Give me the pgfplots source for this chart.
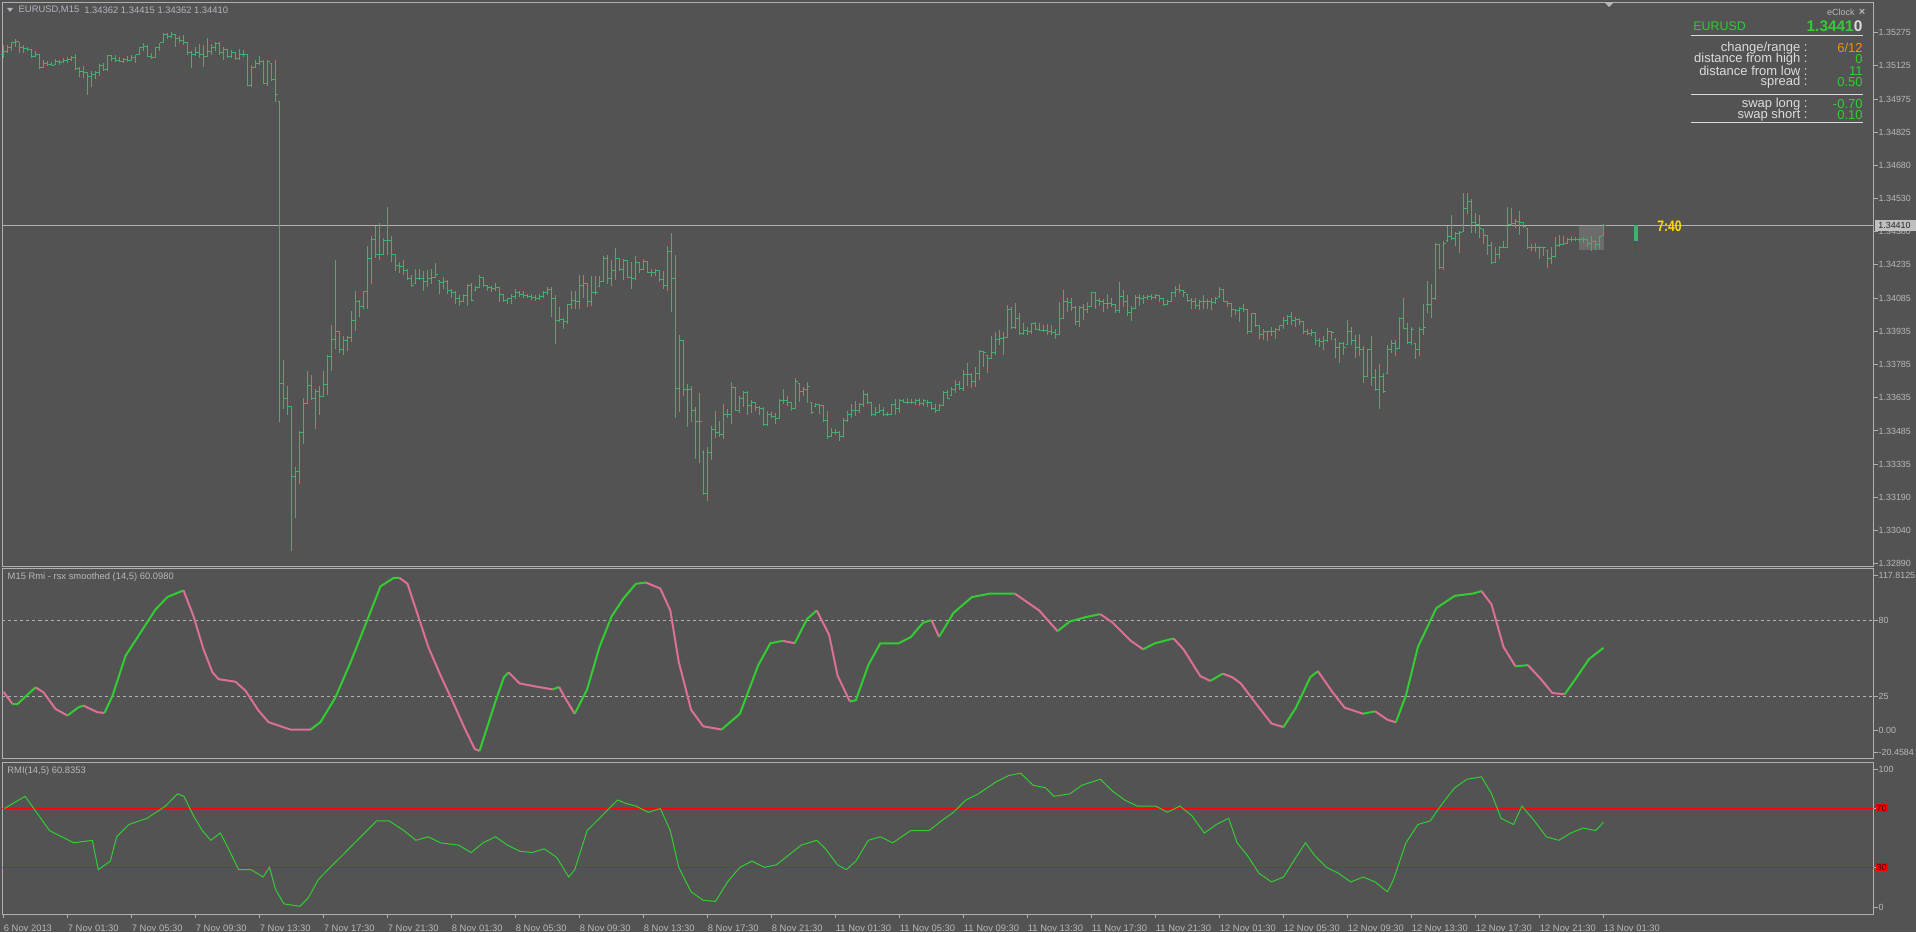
\documentclass[border=0pt]{standalone}
\usepackage{fontspec}
\setmainfont{Liberation Sans}
\usepackage{pgfplots}
\usepackage{pgfplotstable}
\pgfplotsset{compat=1.18}
\definecolor{bgc}{HTML}{535353}
\definecolor{axc}{HTML}{B0B0B0}
\definecolor{lblc}{HTML}{B8B8B8}
\definecolor{barc}{HTML}{3CB371}
\definecolor{rsxg}{HTML}{32CD32}
\definecolor{rsxp}{HTML}{DB7093}
\definecolor{hdrc}{HTML}{B0B4BE}
\definecolor{boxc}{HTML}{6C6C6C}
\definecolor{ecg}{HTML}{33CC33}
\definecolor{ecl}{HTML}{DCDCDC}
\pgfdeclareplotmark{otick}{\pgfpathmoveto{\pgfpoint{-1pt}{0pt}}\pgfpathlineto{\pgfpoint{0pt}{0pt}}\pgfusepathqstroke}
\pgfdeclareplotmark{ctick}{\pgfpathmoveto{\pgfpoint{0pt}{0pt}}\pgfpathlineto{\pgfpoint{1pt}{0pt}}\pgfusepathqstroke}
\newcommand\tk{\fontsize{4.7}{5.6}\selectfont}
\newcommand\tky{\fontsize{4.45}{5.3}\selectfont}
\newcommand\ec{\fontsize{6.5}{7}\selectfont}
\setlength\fboxsep{0.5pt}
\pgfplotstableread{
i h l o c
0 1.35218 1.35161 1.35177 1.35193
1 1.35218 1.35185 1.35193 1.35210
2 1.35234 1.35193 1.35210 1.35229
3 1.35246 1.35213 1.35229 1.35234
4 1.35234 1.35185 1.35234 1.35210
5 1.35218 1.35185 1.35210 1.35206
6 1.35213 1.35193 1.35206 1.35201
7 1.35201 1.35161 1.35201 1.35169
8 1.35193 1.35164 1.35169 1.35177
9 1.35180 1.35112 1.35177 1.35120
10 1.35152 1.35115 1.35120 1.35136
11 1.35147 1.35125 1.35136 1.35131
12 1.35144 1.35125 1.35131 1.35128
13 1.35157 1.35128 1.35131 1.35144
14 1.35152 1.35131 1.35144 1.35141
15 1.35161 1.35141 1.35144 1.35152
16 1.35164 1.35141 1.35152 1.35157
17 1.35169 1.35147 1.35157 1.35164
18 1.35180 1.35108 1.35164 1.35115
19 1.35123 1.35076 1.35115 1.35103
20 1.35125 1.35071 1.35103 1.35095
21 1.35099 1.34997 1.35095 1.35079
22 1.35103 1.35033 1.35079 1.35087
23 1.35103 1.35066 1.35087 1.35095
24 1.35136 1.35082 1.35095 1.35128
25 1.35141 1.35103 1.35128 1.35112
26 1.35177 1.35103 1.35112 1.35174
27 1.35177 1.35147 1.35174 1.35161
28 1.35177 1.35144 1.35161 1.35152
29 1.35164 1.35144 1.35152 1.35147
30 1.35161 1.35141 1.35147 1.35157
31 1.35169 1.35144 1.35157 1.35152
32 1.35174 1.35147 1.35152 1.35164
33 1.35177 1.35141 1.35164 1.35177
34 1.35213 1.35174 1.35177 1.35210
35 1.35229 1.35193 1.35210 1.35213
36 1.35218 1.35164 1.35213 1.35169
37 1.35185 1.35157 1.35169 1.35164
38 1.35213 1.35161 1.35164 1.35210
39 1.35229 1.35193 1.35210 1.35229
40 1.35272 1.35229 1.35229 1.35265
41 1.35272 1.35246 1.35265 1.35259
42 1.35278 1.35250 1.35259 1.35267
43 1.35267 1.35210 1.35267 1.35250
44 1.35259 1.35229 1.35250 1.35242
45 1.35265 1.35218 1.35242 1.35229
46 1.35229 1.35177 1.35229 1.35185
47 1.35193 1.35115 1.35185 1.35177
48 1.35210 1.35169 1.35177 1.35185
49 1.35226 1.35161 1.35185 1.35177
50 1.35218 1.35120 1.35177 1.35169
51 1.35250 1.35164 1.35169 1.35193
52 1.35223 1.35177 1.35193 1.35210
53 1.35234 1.35193 1.35210 1.35226
54 1.35234 1.35177 1.35226 1.35185
55 1.35213 1.35152 1.35185 1.35201
56 1.35201 1.35161 1.35201 1.35169
57 1.35197 1.35161 1.35169 1.35185
58 1.35185 1.35152 1.35185 1.35161
59 1.35201 1.35152 1.35161 1.35177
60 1.35197 1.35164 1.35177 1.35177
61 1.35180 1.35038 1.35177 1.35038
62 1.35128 1.35033 1.35038 1.35120
63 1.35152 1.35120 1.35120 1.35136
64 1.35169 1.35128 1.35136 1.35144
65 1.35152 1.35046 1.35144 1.35049
66 1.35152 1.35038 1.35049 1.35144
67 1.35136 1.35059 1.35136 1.35066
68 1.35152 1.34964 1.35066 1.34997
69 1.34964 1.33527 1.34964 1.33698
70 1.33804 1.33584 1.33698 1.33633
71 1.33690 1.33559 1.33633 1.33595
72 1.33595 1.32947 1.33595 1.33281
73 1.33322 1.33094 1.33281 1.33306
74 1.33486 1.33249 1.33306 1.33478
75 1.33633 1.33429 1.33478 1.33608
76 1.33755 1.33608 1.33608 1.33690
77 1.33739 1.33625 1.33690 1.33633
78 1.33674 1.33494 1.33633 1.33665
79 1.33690 1.33559 1.33665 1.33641
80 1.33755 1.33641 1.33641 1.33693
81 1.33829 1.33649 1.33693 1.33821
82 1.33960 1.33755 1.33821 1.33899
83 1.34254 1.33853 1.33899 1.33935
84 1.33935 1.33837 1.33935 1.33853
85 1.33911 1.33829 1.33853 1.33894
86 1.33911 1.33845 1.33894 1.33906
87 1.34025 1.33886 1.33906 1.33981
88 1.34115 1.33935 1.33981 1.34069
89 1.34074 1.34000 1.34069 1.34046
90 1.34115 1.34033 1.34046 1.34111
91 1.34319 1.34033 1.34111 1.34259
92 1.34360 1.34147 1.34259 1.34347
93 1.34409 1.34262 1.34347 1.34278
94 1.34422 1.34254 1.34278 1.34278
95 1.34352 1.34278 1.34278 1.34340
96 1.34491 1.34278 1.34340 1.34340
97 1.34360 1.34246 1.34340 1.34278
98 1.34278 1.34205 1.34278 1.34229
99 1.34246 1.34197 1.34229 1.34226
100 1.34254 1.34188 1.34226 1.34205
101 1.34213 1.34164 1.34205 1.34172
102 1.34188 1.34131 1.34172 1.34139
103 1.34213 1.34147 1.34147 1.34172
104 1.34213 1.34164 1.34172 1.34172
105 1.34205 1.34115 1.34172 1.34156
106 1.34210 1.34131 1.34156 1.34172
107 1.34213 1.34147 1.34172 1.34177
108 1.34242 1.34177 1.34177 1.34188
109 1.34164 1.34102 1.34161 1.34151
110 1.34177 1.34123 1.34151 1.34156
111 1.34164 1.34102 1.34156 1.34115
112 1.34123 1.34082 1.34115 1.34107
113 1.34115 1.34058 1.34107 1.34082
114 1.34095 1.34049 1.34082 1.34069
115 1.34102 1.34066 1.34069 1.34095
116 1.34144 1.34046 1.34095 1.34139
117 1.34151 1.34069 1.34139 1.34074
118 1.34139 1.34115 1.34118 1.34131
119 1.34185 1.34131 1.34131 1.34177
120 1.34177 1.34131 1.34177 1.34139
121 1.34139 1.34115 1.34139 1.34131
122 1.34139 1.34112 1.34131 1.34128
123 1.34151 1.34115 1.34128 1.34131
124 1.34131 1.34066 1.34131 1.34098
125 1.34102 1.34066 1.34098 1.34074
126 1.34085 1.34058 1.34074 1.34079
127 1.34102 1.34058 1.34079 1.34090
128 1.34123 1.34079 1.34090 1.34107
129 1.34115 1.34090 1.34107 1.34098
130 1.34115 1.34085 1.34098 1.34095
131 1.34102 1.34082 1.34095 1.34090
132 1.34102 1.34074 1.34090 1.34085
133 1.34095 1.34069 1.34085 1.34082
134 1.34102 1.34074 1.34082 1.34090
135 1.34115 1.34085 1.34090 1.34107
136 1.34131 1.34098 1.34107 1.34123
137 1.34131 1.34000 1.34123 1.34082
138 1.34098 1.33878 1.34082 1.33984
139 1.34041 1.33976 1.33984 1.33987
140 1.33992 1.33943 1.33987 1.33976
141 1.34058 1.33968 1.33976 1.34053
142 1.34115 1.34033 1.34053 1.34074
143 1.34115 1.34033 1.34074 1.34069
144 1.34185 1.34033 1.34069 1.34139
145 1.34188 1.34082 1.34139 1.34147
146 1.34147 1.34041 1.34147 1.34069
147 1.34180 1.34049 1.34069 1.34107
148 1.34180 1.34098 1.34107 1.34107
149 1.34180 1.34131 1.34134 1.34156
150 1.34270 1.34156 1.34156 1.34259
151 1.34278 1.34147 1.34259 1.34172
152 1.34254 1.34139 1.34172 1.34205
153 1.34306 1.34164 1.34205 1.34259
154 1.34259 1.34205 1.34259 1.34213
155 1.34259 1.34164 1.34213 1.34254
156 1.34254 1.34172 1.34254 1.34177
157 1.34246 1.34123 1.34177 1.34172
158 1.34270 1.34164 1.34172 1.34242
159 1.34246 1.34197 1.34242 1.34213
160 1.34259 1.34213 1.34213 1.34246
161 1.34246 1.34197 1.34246 1.34200
162 1.34213 1.34177 1.34200 1.34197
163 1.34213 1.34183 1.34197 1.34205
164 1.34210 1.34156 1.34205 1.34167
165 1.34205 1.34123 1.34167 1.34139
166 1.34319 1.34115 1.34139 1.34291
167 1.34376 1.34020 1.34291 1.34172
168 1.34278 1.33543 1.34172 1.33677
169 1.33915 1.33572 1.33677 1.33894
170 1.33894 1.33644 1.33894 1.33674
171 1.33698 1.33502 1.33674 1.33670
172 1.33687 1.33527 1.33670 1.33576
173 1.33592 1.33360 1.33576 1.33527
174 1.33657 1.33344 1.33527 1.33527
175 1.33399 1.33200 1.33388 1.33203
176 1.33412 1.33170 1.33203 1.33388
177 1.33507 1.33355 1.33388 1.33494
178 1.33576 1.33453 1.33494 1.33478
179 1.33530 1.33461 1.33478 1.33469
180 1.33605 1.33450 1.33469 1.33559
181 1.33584 1.33543 1.33559 1.33559
182 1.33706 1.33518 1.33559 1.33682
183 1.33682 1.33576 1.33682 1.33579
184 1.33641 1.33567 1.33579 1.33633
185 1.33665 1.33592 1.33633 1.33660
186 1.33665 1.33559 1.33660 1.33600
187 1.33625 1.33567 1.33600 1.33616
188 1.33616 1.33576 1.33616 1.33592
189 1.33600 1.33559 1.33592 1.33589
190 1.33595 1.33507 1.33589 1.33513
191 1.33576 1.33510 1.33513 1.33559
192 1.33572 1.33543 1.33559 1.33551
193 1.33567 1.33518 1.33551 1.33543
194 1.33628 1.33543 1.33543 1.33625
195 1.33674 1.33608 1.33625 1.33621
196 1.33641 1.33600 1.33621 1.33612
197 1.33616 1.33576 1.33612 1.33589
198 1.33723 1.33584 1.33589 1.33706
199 1.33703 1.33616 1.33698 1.33665
200 1.33682 1.33641 1.33665 1.33674
201 1.33706 1.33613 1.33674 1.33687
202 1.33616 1.33562 1.33616 1.33567
203 1.33612 1.33592 1.33595 1.33605
204 1.33608 1.33562 1.33605 1.33600
205 1.33600 1.33527 1.33600 1.33535
206 1.33576 1.33448 1.33535 1.33461
207 1.33497 1.33461 1.33461 1.33478
208 1.33497 1.33469 1.33478 1.33481
209 1.33486 1.33442 1.33481 1.33461
210 1.33543 1.33453 1.33461 1.33535
211 1.33576 1.33527 1.33535 1.33559
212 1.33605 1.33543 1.33559 1.33579
213 1.33620 1.33551 1.33579 1.33576
214 1.33612 1.33567 1.33576 1.33605
215 1.33669 1.33592 1.33605 1.33649
216 1.33657 1.33608 1.33649 1.33616
217 1.33616 1.33554 1.33616 1.33559
218 1.33592 1.33551 1.33559 1.33567
219 1.33608 1.33567 1.33567 1.33576
220 1.33592 1.33554 1.33576 1.33562
221 1.33572 1.33556 1.33562 1.33559
222 1.33608 1.33556 1.33559 1.33605
223 1.33628 1.33559 1.33605 1.33589
224 1.33628 1.33567 1.33589 1.33621
225 1.33628 1.33612 1.33621 1.33616
226 1.33633 1.33605 1.33616 1.33616
227 1.33628 1.33608 1.33616 1.33612
228 1.33628 1.33603 1.33612 1.33621
229 1.33633 1.33600 1.33621 1.33608
230 1.33628 1.33600 1.33608 1.33621
231 1.33625 1.33592 1.33616 1.33616
232 1.33612 1.33579 1.33612 1.33589
233 1.33608 1.33567 1.33589 1.33576
234 1.33608 1.33576 1.33576 1.33600
235 1.33665 1.33600 1.33600 1.33657
236 1.33670 1.33630 1.33657 1.33633
237 1.33682 1.33641 1.33644 1.33674
238 1.33714 1.33657 1.33674 1.33693
239 1.33710 1.33670 1.33693 1.33677
240 1.33759 1.33665 1.33677 1.33739
241 1.33791 1.33690 1.33739 1.33739
242 1.33747 1.33677 1.33739 1.33706
243 1.33772 1.33682 1.33706 1.33742
244 1.33850 1.33714 1.33742 1.33845
245 1.33845 1.33772 1.33845 1.33837
246 1.33829 1.33747 1.33824 1.33812
247 1.33911 1.33812 1.33812 1.33837
248 1.33932 1.33829 1.33837 1.33899
249 1.33938 1.33870 1.33899 1.33902
250 1.33932 1.33829 1.33902 1.33906
251 1.34053 1.33902 1.33906 1.34030
252 1.34041 1.33943 1.34030 1.33951
253 1.34061 1.33946 1.33951 1.33992
254 1.34014 1.33919 1.33992 1.33922
255 1.33971 1.33915 1.33922 1.33938
256 1.33951 1.33915 1.33938 1.33932
257 1.33971 1.33922 1.33932 1.33968
258 1.33976 1.33938 1.33968 1.33943
259 1.33971 1.33935 1.33943 1.33938
260 1.33960 1.33932 1.33938 1.33938
261 1.33968 1.33919 1.33938 1.33935
262 1.33960 1.33915 1.33935 1.33927
263 1.33943 1.33899 1.33927 1.33919
264 1.34066 1.33919 1.33919 1.33992
265 1.34118 1.33992 1.33992 1.34069
266 1.34085 1.34020 1.34069 1.34062
267 1.34085 1.34025 1.34062 1.34041
268 1.34049 1.33964 1.34041 1.33976
269 1.34049 1.33955 1.33976 1.34041
270 1.34058 1.33984 1.34041 1.34033
271 1.34066 1.34017 1.34033 1.34046
272 1.34110 1.34041 1.34046 1.34107
273 1.34107 1.34033 1.34107 1.34074
274 1.34085 1.34049 1.34074 1.34069
275 1.34079 1.34020 1.34069 1.34058
276 1.34102 1.34033 1.34058 1.34058
277 1.34085 1.34041 1.34058 1.34053
278 1.34058 1.34014 1.34053 1.34025
279 1.34154 1.34017 1.34025 1.34090
280 1.34121 1.34041 1.34090 1.34066
281 1.34095 1.34004 1.34066 1.34020
282 1.34049 1.33981 1.34020 1.34036
283 1.34095 1.34036 1.34036 1.34085
284 1.34102 1.34046 1.34085 1.34082
285 1.34095 1.34058 1.34082 1.34085
286 1.34095 1.34074 1.34085 1.34090
287 1.34102 1.34074 1.34090 1.34085
288 1.34102 1.34079 1.34085 1.34095
289 1.34098 1.34066 1.34095 1.34079
290 1.34085 1.34049 1.34079 1.34053
291 1.34074 1.34053 1.34053 1.34069
292 1.34110 1.34069 1.34069 1.34107
293 1.34139 1.34090 1.34107 1.34123
294 1.34147 1.34107 1.34123 1.34115
295 1.34118 1.34090 1.34115 1.34107
296 1.34102 1.34066 1.34098 1.34074
297 1.34085 1.34033 1.34074 1.34066
298 1.34085 1.34033 1.34066 1.34049
299 1.34074 1.34030 1.34049 1.34066
300 1.34095 1.34033 1.34066 1.34066
301 1.34079 1.34036 1.34066 1.34069
302 1.34085 1.34030 1.34069 1.34062
303 1.34090 1.34058 1.34062 1.34082
304 1.34131 1.34085 1.34090 1.34123
305 1.34123 1.34066 1.34123 1.34069
306 1.34069 1.34041 1.34069 1.34058
307 1.34058 1.34000 1.34058 1.34033
308 1.34036 1.34009 1.34033 1.34025
309 1.34041 1.33976 1.34025 1.34036
310 1.34058 1.34020 1.34036 1.34030
311 1.34030 1.33922 1.34030 1.33932
312 1.34017 1.33927 1.33932 1.34014
313 1.34014 1.33951 1.34014 1.33960
314 1.33960 1.33899 1.33960 1.33919
315 1.33943 1.33894 1.33919 1.33932
316 1.33935 1.33889 1.33932 1.33932
317 1.33951 1.33911 1.33932 1.33935
318 1.33948 1.33899 1.33935 1.33943
319 1.33964 1.33935 1.33943 1.33960
320 1.34000 1.33943 1.33960 1.33981
321 1.34009 1.33960 1.33981 1.34000
322 1.34020 1.33964 1.34000 1.33984
323 1.33997 1.33955 1.33984 1.33987
324 1.33992 1.33960 1.33987 1.33976
325 1.33976 1.33922 1.33976 1.33932
326 1.33943 1.33915 1.33932 1.33922
327 1.33943 1.33911 1.33922 1.33927
328 1.33927 1.33870 1.33927 1.33894
329 1.33902 1.33861 1.33894 1.33886
330 1.33911 1.33850 1.33886 1.33894
331 1.33948 1.33886 1.33894 1.33935
332 1.33935 1.33894 1.33935 1.33927
333 1.33902 1.33812 1.33899 1.33861
334 1.33886 1.33791 1.33861 1.33878
335 1.33886 1.33829 1.33878 1.33861
336 1.33984 1.33870 1.33873 1.33935
337 1.33951 1.33873 1.33935 1.33894
338 1.33919 1.33812 1.33894 1.33861
339 1.33922 1.33824 1.33861 1.33853
340 1.33866 1.33703 1.33853 1.33731
341 1.33853 1.33729 1.33731 1.33850
342 1.33911 1.33690 1.33850 1.33726
343 1.33763 1.33665 1.33726 1.33674
344 1.33788 1.33584 1.33674 1.33731
345 1.33747 1.33657 1.33731 1.33665
346 1.33870 1.33742 1.33742 1.33853
347 1.33894 1.33837 1.33853 1.33878
348 1.33894 1.33824 1.33878 1.33857
349 1.33997 1.33853 1.33857 1.33992
350 1.34082 1.33943 1.33992 1.33948
351 1.33973 1.33878 1.33948 1.33883
352 1.33951 1.33873 1.33883 1.33943
353 1.33883 1.33808 1.33878 1.33850
354 1.33951 1.33821 1.33850 1.33943
355 1.34058 1.33915 1.33943 1.33951
356 1.34161 1.34017 1.34053 1.34053
357 1.34147 1.33992 1.34053 1.34079
358 1.34330 1.34074 1.34079 1.34324
359 1.34327 1.34213 1.34324 1.34221
360 1.34340 1.34210 1.34221 1.34330
361 1.34409 1.34335 1.34340 1.34360
362 1.34458 1.34344 1.34360 1.34352
363 1.34380 1.34319 1.34352 1.34373
364 1.34383 1.34286 1.34373 1.34376
365 1.34553 1.34380 1.34384 1.34487
366 1.34553 1.34461 1.34487 1.34515
367 1.34527 1.34376 1.34515 1.34422
368 1.34466 1.34376 1.34422 1.34412
369 1.34458 1.34352 1.34412 1.34396
370 1.34393 1.34327 1.34389 1.34363
371 1.34368 1.34278 1.34363 1.34319
372 1.34335 1.34237 1.34319 1.34242
373 1.34311 1.34242 1.34242 1.34278
374 1.34319 1.34259 1.34278 1.34311
375 1.34340 1.34311 1.34311 1.34311
376 1.34491 1.34308 1.34311 1.34412
377 1.34487 1.34406 1.34412 1.34417
378 1.34438 1.34396 1.34417 1.34429
379 1.34474 1.34368 1.34429 1.34422
380 1.34422 1.34396 1.34422 1.34406
381 1.34396 1.34303 1.34396 1.34311
382 1.34324 1.34295 1.34311 1.34308
383 1.34330 1.34291 1.34308 1.34311
384 1.34317 1.34259 1.34311 1.34311
385 1.34314 1.34270 1.34311 1.34311
386 1.34295 1.34216 1.34295 1.34262
387 1.34314 1.34237 1.34262 1.34270
388 1.34357 1.34262 1.34270 1.34319
389 1.34368 1.34314 1.34319 1.34324
390 1.34360 1.34324 1.34324 1.34330
391 1.34352 1.34327 1.34330 1.34344
392 1.34360 1.34335 1.34344 1.34347
393 1.34357 1.34340 1.34347 1.34347
394 1.34352 1.34335 1.34347 1.34344
395 1.34357 1.34330 1.34344 1.34344
396 1.34344 1.34314 1.34344 1.34330
397 1.34360 1.34295 1.34330 1.34335
398 1.34344 1.34298 1.34335 1.34324
399 1.34363 1.34303 1.34324 1.34360
400 1.34415 1.34362 1.34362 1.34410
}\bars
\pgfplotsset{
 mt/.style={
  scale only axis, width=935.5pt,
  xmin=-0.25, xmax=467.5,
  axis line style={draw=axc, line width=0.5pt},
  tick align=outside, major tick length=2pt,
  every tick/.style={draw=axc, line width=0.5pt},
  ticklabel style={font=\tk, text=lblc, inner sep=0pt},
  ytick pos=right, yticklabel pos=right,
  yticklabel style={font=\tky, anchor=west, xshift=0.4pt},
  clip=true,
 },
 ggl/.style={rsxg, line width=1pt},
 ppl/.style={rsxp, line width=1pt},
}
\begin{document}
\begin{tikzpicture}
\useasboundingbox (0,0) rectangle (958pt,466pt);
\fill[bgc] (0,0) rectangle (958pt,466pt);
% ---------------- main price panel
\begin{axis}[mt, at={(1.25pt,182.75pt)}, anchor=south west, height=282pt,
  ymin=1.32877, ymax=1.35411, xtick=\empty,
  ytick={1.32890,1.33039,1.33188,1.33337,1.33486,1.33635,1.33784,1.33933,1.34083,1.34232,1.34381,1.34530,1.34679,1.34828,1.34977,1.35126,1.35275},
  yticklabels={1.32890,1.33040,1.33190,1.33335,1.33485,1.33635,1.33785,1.33935,1.34085,1.34235,1.34380,1.34530,1.34680,1.34825,1.34975,1.35125,1.35275}]
\addplot[fill=boxc, draw=none] coordinates {(393.9,1.34410) (400.1,1.34410) (400.1,1.34299) (393.9,1.34299) (393.9,1.34410)};
\addplot[draw=axc, line width=0.5pt] coordinates {(-0.25,1.34410) (467.5,1.34410)};
\addplot[only marks, mark=ctick, mark options={draw=barc, line width=0.5pt},
  error bars/.cd, y dir=both, y explicit, error mark=none,
  error bar style={draw=barc, line width=0.5pt}]
  table[x=i, y=c, y error plus expr=\thisrow{h}-\thisrow{c}, y error minus expr=\thisrow{c}-\thisrow{l}] {\bars};
\addplot[only marks, mark=otick, mark options={draw=barc, line width=0.5pt}] table[x=i, y=o] {\bars};
\addplot[draw=barc, line width=1.6pt] coordinates {(408.1,1.34410) (408.1,1.34339)};
\addplot[draw=green!50!black, line width=0.5pt] coordinates {(408.1,1.34339) (408.1,1.34294)};
\end{axis}
% ---------------- RSX panel
\begin{axis}[mt, at={(1.25pt,86.75pt)}, anchor=south west, height=95pt,
  ymin=-20.4584, ymax=117.8125, xtick=\empty,
  ytick={-16.1,0,25,80,112.9}, yticklabels={-20.4584,0.00,25,80,117.8125}]
\addplot[draw=axc, dash pattern=on 1.5pt off 1.5pt, line width=0.5pt] coordinates {(-0.25,80) (467.5,80)};
\addplot[draw=axc, dash pattern=on 1.5pt off 1.5pt, line width=0.5pt] coordinates {(-0.25,25) (467.5,25)};
\addplot[ppl] coordinates {(0,28.1) (2.25,19.2)};
\addplot[ggl] coordinates {(2.25,19.2) (3.5,19.2) (8,31.3)};
\addplot[ppl] coordinates {(8,31.3) (10,27.7) (13,15.6) (16,10.8)};
\addplot[ggl] coordinates {(16,10.8) (18.75,16.8) (20,18.0)};
\addplot[ppl] coordinates {(20,18.0) (23.5,13.2) (25.25,12.7)};
\addplot[ggl] coordinates {(25.25,12.7) (27.25,25.2) (30.5,54.2) (34.25,71.1) (38,88) (41,97.1) (45,101.9)};
\addplot[ppl] coordinates {(45,101.9) (47.5,83.1) (50,59) (52.25,42.2) (53.75,37.3) (58,35.4) (60.5,28.9) (63.75,14.4) (66.25,6) (68.75,3.5) (71.75,0.6) (76.75,0.6)};
\addplot[ggl] coordinates {(76.75,0.6) (79.25,6) (83,24.1) (86.75,49.4) (91,80.7) (94.25,104.8) (97.5,110.9) (99,111)};
\addplot[ppl] coordinates {(99,111) (101,106.7) (106.2,60.7) (109.2,40.4) (112.3,21) (115.3,1.5) (117.8,-13.5) (119,-15)};
\addplot[ggl] coordinates {(119,-15) (121.5,7.5) (123,21) (125.1,38.7) (126.3,42.2)};
\addplot[ppl] coordinates {(126.3,42.2) (129,34.2) (133.7,31.6) (137.3,29.8)};
\addplot[ggl] coordinates {(137.3,29.8) (138.9,31.6)};
\addplot[ppl] coordinates {(138.9,31.6) (140.4,23.6) (142.8,12.1)};
\addplot[ggl] coordinates {(142.8,12.1) (145.9,29.8) (149,60.7) (152,82.8) (155,96.1) (158.1,106.7) (160.6,107.6)};
\addplot[ppl] coordinates {(160.6,107.6) (164.2,103.2) (166.7,87.3) (168.8,50) (171.9,15) (174.9,3) (179.5,0.6)};
\addplot[ggl] coordinates {(179.5,0.6) (184.1,12.1) (188.7,47.5) (191.7,63.4) (194.8,65.2)};
\addplot[ppl] coordinates {(194.8,65.2) (197.8,63.4)};
\addplot[ggl] coordinates {(197.8,63.4) (200.9,81.1) (203.3,87.3)};
\addplot[ppl] coordinates {(203.3,87.3) (206.4,69.6) (208.5,40) (211.6,21)};
\addplot[ggl] coordinates {(211.6,21) (213.1,22) (216.2,47.5) (219.2,63.4) (223.8,63.4) (226.8,67.8) (229.9,78.4) (232,80.2)};
\addplot[ppl] coordinates {(232,80.2) (233.9,68)};
\addplot[ggl] coordinates {(233.9,68) (237.5,85.5) (242.1,97) (246.7,99.6) (252.8,99.6)};
\addplot[ppl] coordinates {(252.8,99.6) (258.9,87.3) (263.5,72.2)};
\addplot[ggl] coordinates {(263.5,72.2) (266.6,79.3) (271.1,82.8) (274.2,84.6)};
\addplot[ppl] coordinates {(274.2,84.6) (277.3,78.4) (281.8,65.2) (284.9,59)};
\addplot[ggl] coordinates {(284.9,59) (287.9,63.4) (292.5,66.9)};
\addplot[ppl] coordinates {(292.5,66.9) (295,59) (299.2,39.5) (301.7,36)};
\addplot[ggl] coordinates {(301.7,36) (304.8,41.3)};
\addplot[ppl] coordinates {(304.8,41.3) (307.2,38.7) (309.3,34.2) (313.9,16.5) (317,5) (320,2.4)};
\addplot[ggl] coordinates {(320,2.4) (323.1,16.5) (326.7,38.7) (328.6,43.1)};
\addplot[ppl] coordinates {(328.6,43.1) (332.2,28) (335.3,16.5) (339.9,12.1)};
\addplot[ggl] coordinates {(339.9,12.1) (342.9,13.9)};
\addplot[ppl] coordinates {(342.9,13.9) (346,7.7) (348.1,5.9)};
\addplot[ggl] coordinates {(348.1,5.9) (350.6,25.4) (353.6,60.7) (358.2,89) (362.8,97.9) (367.4,99.6) (369.5,101.4)};
\addplot[ppl] coordinates {(369.5,101.4) (372,91.7) (375,60.7) (378,46.6)};
\addplot[ggl] coordinates {(378,46.6) (381.1,47.5)};
\addplot[ppl] coordinates {(381.1,47.5) (384.2,37.8) (387.2,27.2) (390.3,26.3)};
\addplot[ggl] coordinates {(390.3,26.3) (393.3,38.7) (396.4,52) (399.5,59) (400,60.1)};
\end{axis}
% ---------------- RMI panel
\begin{axis}[mt, at={(1.25pt,9pt)}, anchor=south west, height=75.85pt,
  ymin=-1.63, ymax=101.15,
  ytick={2.6,30,70,96.4},
  yticklabels={0,{\hspace*{-1.5pt}\colorbox{red}{\textcolor{black!80!red}{30}}},{\hspace*{-1.5pt}\colorbox{red}{\textcolor{black!80!red}{70}}},100},
  xtick pos=bottom,
  xtick={0,16,32,48,64,80,96,112,128,144,160,176,192,208,224,240,256,272,288,304,320,336,352,368,384,400},
  xticklabels={6 Nov 2013,7 Nov 01:30,7 Nov 05:30,7 Nov 09:30,7 Nov 13:30,7 Nov 17:30,7 Nov 21:30,8 Nov 01:30,8 Nov 05:30,8 Nov 09:30,8 Nov 13:30,8 Nov 17:30,8 Nov 21:30,11 Nov 01:30,11 Nov 05:30,11 Nov 09:30,11 Nov 13:30,11 Nov 17:30,11 Nov 21:30,12 Nov 01:30,12 Nov 05:30,12 Nov 09:30,12 Nov 13:30,12 Nov 17:30,12 Nov 21:30,13 Nov 01:30},
  xticklabel style={anchor=west, yshift=-5pt}]
\addplot[draw=red, line width=0.5pt] coordinates {(-0.25,70) (467.5,70)};
\addplot[draw=red, line width=0.5pt] coordinates {(-0.25,30) (467.5,30)};
\addplot[rsxg, line width=0.5pt] coordinates {(0.2,69.8) (5.4,78.1) (11.5,54.9) (17.6,46.6) (22.2,48.3) (23.7,28.4) (26.7,34.2) (28.3,50.7) (31.3,59) (35.9,63.2) (40.5,71.5) (43.5,79.8) (45.1,78.1) (47.5,64.9) (49.7,54.9) (51.8,48.3) (54.2,53.2) (55.8,45) (58.8,28.4) (61.9,28.4) (64.9,23.4) (66.5,30) (68,15.1) (70.1,5.2) (74.1,3.6) (76.2,9.3) (78.7,21.7) (81.7,30) (84.8,38.3) (87.8,46.6) (90.9,54.9) (93.3,61.5) (96.4,61.5) (100.1,54.9) (103.1,48.3) (106.2,50.7) (109.2,46.6) (113.8,45) (116.9,40) (119.9,46.6) (123,50.7) (126,45) (129.1,40.9) (132.1,40) (135.2,42.5) (138.3,36.7) (141.3,23.4) (142.8,28.4) (145.9,54.9) (149,63.2) (152,71.5) (153.5,75.6) (155.7,73.2) (158.1,71.5) (161.2,67.3) (164.2,69.8) (166.7,54.9) (168.8,30) (171.9,13.4) (174.9,7.7) (178,6.9) (181,20.1) (184.1,30) (187.1,34.2) (190.2,30) (193.2,31.7) (196.3,38.3) (199.4,45) (203.3,48.3) (205.5,42.5) (208.5,31.7) (210.7,28.4) (213.1,34.2) (216.2,48.3) (219.2,50.7) (222.3,46.6) (226.8,54.9) (231.4,54.9) (234.5,61.5) (237.5,67.3) (240.6,75.6) (243.7,79.8) (248.2,88) (251.3,92.2) (254.3,93.8) (257.4,85.6) (260.5,83.9) (262.6,78.1) (266.6,79.8) (269.6,85.6) (274.2,89.7) (277.3,81.5) (280.3,75.6) (283.4,71.5) (288,71.5) (291,67.3) (294.1,71.5) (297.1,64.9) (300.2,53.2) (303.2,59) (306.3,63.2) (308.4,46.6) (310.9,38.3) (313.9,25.9) (317,20.1) (320,23.4) (323.1,36.7) (325.5,46.6) (327.7,38.3) (330.7,30) (333.8,25.9) (336.8,20.1) (339.9,23.4) (342.9,20.1) (346,13.4) (347.5,21.7) (350.6,46.6) (353.6,59) (356.7,61.5) (359.7,73.2) (362.8,83.9) (365.9,89.7) (369.5,91.3) (372,79.8) (374.4,63.2) (377.5,59) (379.6,71.5) (382.7,61.5) (385.7,50.7) (388.8,48.3) (391.8,53.2) (394.9,56.6) (398,54.9) (399.5,59) (400,60.8)};
\end{axis}
% ---------------- headers and overlays
\fill[hdrc] (3.5pt,462pt) -- (6.5pt,462pt) -- (5pt,460pt) -- cycle;
\node[anchor=west, font=\tk, text=hdrc, inner sep=0pt] at (9.15pt,461pt) {EURUSD,M15};
\node[anchor=west, font=\tk, text=hdrc, inner sep=0pt] at (42pt,461pt) {1.34362 1.34415 1.34362 1.34410};
\node[anchor=west, font=\tk, text=lblc, inner sep=0pt] at (3.65pt,177.35pt) {M15 Rmi - rsx smoothed (14,5) 60.0980};
\node[anchor=west, font=\tk, text=lblc, inner sep=0pt] at (3.5pt,80.5pt) {RMI(14,5) 60.8353};
\fill[lblc] (802.25pt,464.75pt) -- (806.75pt,464.75pt) -- (804.5pt,462.5pt) -- cycle;
% price label
\fill[lblc!90!white] (937.5pt,350.5pt) rectangle (958pt,356pt);
\node[anchor=west, font=\tky, text=black!85, inner sep=0pt] at (939pt,353.25pt) {1.34410};
% timer
\node[anchor=west, inner sep=0pt, text={rgb,255:red,255;green,215;blue,0}] at (828.5pt,353pt) {\scalebox{0.8}[1]{\fontsize{7.6}{8}\selectfont\bfseries 7:40}};
% eClock box
\node[anchor=east, font=\fontsize{4.5}{5}\selectfont, text=lblc, inner sep=0pt] at (927.5pt,460pt) {eClock};
\node[anchor=center, font=\fontsize{5.5}{6}\selectfont\bfseries, text=lblc, inner sep=0pt] at (931pt,460pt) {×};
\node[anchor=west, font=\fontsize{6.2}{7}\selectfont, text=ecg, inner sep=0pt] at (846.5pt,453pt) {EURUSD};
\node[anchor=east, font=\fontsize{7.7}{8}\selectfont\bfseries, inner sep=0pt] at (931.35pt,453pt) {\textcolor{ecg}{1.3441}\textcolor{ecl}{0}};
\draw[ecl, line width=0.5pt] (845.5pt,448pt) -- (931.5pt,448pt);
\draw[ecl, line width=0.5pt] (845.5pt,418.65pt) -- (931.5pt,418.65pt);
\draw[ecl, line width=0.5pt] (845.5pt,404.65pt) -- (931.5pt,404.65pt);
\begin{scope}[every node/.style={font=\ec, inner sep=0pt}]
\node[anchor=east, text=ecl] at (904pt,442.15pt) {change/range :};
\node[anchor=east, text=ecl] at (904pt,436.5pt) {distance from high :};
\node[anchor=east, text=ecl] at (904pt,430.65pt) {distance from low :};
\node[anchor=east, text=ecl] at (904pt,424.85pt) {spread :};
\node[anchor=east, text=ecl] at (904pt,413.85pt) {swap long :};
\node[anchor=east, text=ecl] at (904pt,408.5pt) {swap short :};
\node[anchor=east, text={rgb,255:red,255;green,140;blue,0}] at (931.5pt,442.15pt) {6/12};
\node[anchor=east, text=ecg] at (931.5pt,436.5pt) {0};
\node[anchor=east, text=ecg] at (931.5pt,430.65pt) {11};
\node[anchor=east, text=ecg] at (931.5pt,424.85pt) {0.50};
\node[anchor=east, text=ecg] at (931.5pt,413.85pt) {-0.70};
\node[anchor=east, text=ecg] at (931.5pt,408.5pt) {0.10};
\end{scope}
\end{tikzpicture}
\end{document}
